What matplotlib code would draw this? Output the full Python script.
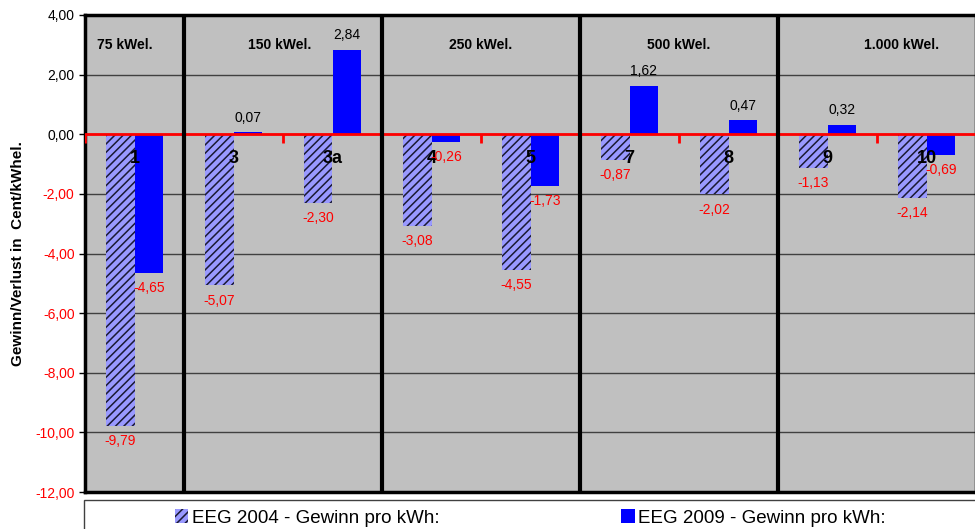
import numpy as np
import matplotlib
matplotlib.use("Agg")
import matplotlib.pyplot as plt
from matplotlib.patches import Patch, Rectangle

plt.rcParams['font.family'] = ['Liberation Sans', 'DejaVu Sans']
plt.rcParams['hatch.linewidth'] = 1.1

# data
anlagen = ['1', '3', '3a', '4', '5', '7', '8', '9', '10']
eeg2004 = [-9.79, -5.07, -2.30, -3.08, -4.55, -0.87, -2.02, -1.13, -2.14]
eeg2009 = [-4.65, 0.07, 2.84, -0.26, -1.73, 1.62, 0.47, 0.32, -0.69]
gruppen = ['75 kWel.', '150 kWel.', '250 kWel.', '500 kWel.', '1.000 kWel.']
gruppen_x = [-0.1, 1.47, 3.5, 5.5, 7.75]
trenner = [0.5, 2.5, 4.5, 6.5]
yticks = np.arange(-12, 5, 2)

def fmt(v):
    return ('%.2f' % v).replace('.', ',')

fig = plt.figure(figsize=(9.75, 5.29), dpi=100)
ax = fig.add_axes([85/975, 1-492/529, 891/975, 477/529])
ax.set_facecolor('#C0C0C0')

x = np.arange(len(anlagen))
w = 0.29
b1 = ax.bar(x - w/2, eeg2004, w, color='#9999FF', edgecolor='#1a1a33',
            linewidth=0, hatch='////', zorder=3)
b2 = ax.bar(x + w/2, eeg2009, w, color='#0000FF', linewidth=0, zorder=3)

ax.set_xlim(-0.5, len(anlagen) - 0.5)
ax.set_ylim(-12, 4)
ax.set_yticks(yticks)
ax.set_yticklabels([fmt(v) for v in yticks], fontsize=10)
for lab, v in zip(ax.get_yticklabels(), yticks):
    lab.set_color('red' if v < 0 else 'black')
ax.set_xticks([])
ax.tick_params(axis='y', direction='out', length=4, width=1)
ax.grid(axis='y', color='#404040', linewidth=1, zorder=1)
ax.set_axisbelow(True)
for s in ax.spines.values():
    s.set_linewidth(2.5)
    s.set_color('black')

# red zero line with little ticks at the category borders
ax.axhline(0, color='red', linewidth=2, zorder=4)
ax.vlines(np.arange(len(anlagen) + 1) - 0.5, -0.3, 0, color='red', linewidth=2, zorder=4)

# group separators
ax.vlines(trenner, -12, 4, color='black', linewidth=3, zorder=5)
for gx, g in zip(gruppen_x, gruppen):
    ax.text(gx, 3.0, g, ha='center', va='center', fontsize=10, fontweight='bold')

# category numbers
for xi, a in zip(x, anlagen):
    ax.text(xi, -0.8, a, ha='center', va='center', fontsize=13, fontweight='bold', zorder=6)

# value labels
for bars, vals in ((b1, eeg2004), (b2, eeg2009)):
    for r, v in zip(bars, vals):
        cx = r.get_x() + r.get_width() / 2
        off = 10.5 if v >= 0 else -11
        ax.annotate(fmt(v), (cx, v), xytext=(0, off), textcoords='offset points',
                    ha='center', va='center', fontsize=10,
                    color='black' if v >= 0 else 'red', zorder=6)

ax.set_ylabel('Gewinn/Verlust in  Cent/kWhel.', fontsize=11, fontweight='bold', labelpad=7)

# legend box below the plot
fig.patches.append(Rectangle((84/975, -0.05), 1, (529-500)/529 + 0.05,
                             transform=fig.transFigure, facecolor='white',
                             edgecolor='#404040', linewidth=1))
handles = [Patch(facecolor='#9999FF', edgecolor='#1a1a33', linewidth=0, hatch='////'),
           Patch(facecolor='#0000FF', linewidth=0)]
fig.legend(handles, ['EEG 2004 - Gewinn pro kWh:', 'EEG 2009 - Gewinn pro kWh:'],
           loc='center left', bbox_to_anchor=(175/975, 1-518/529), ncol=2,
           frameon=False, fontsize=13.5, handlelength=0.7, handleheight=0.7,
           handletextpad=0.2, columnspacing=9.7, borderpad=0, borderaxespad=0)

fig.savefig('out.png', dpi=100)
